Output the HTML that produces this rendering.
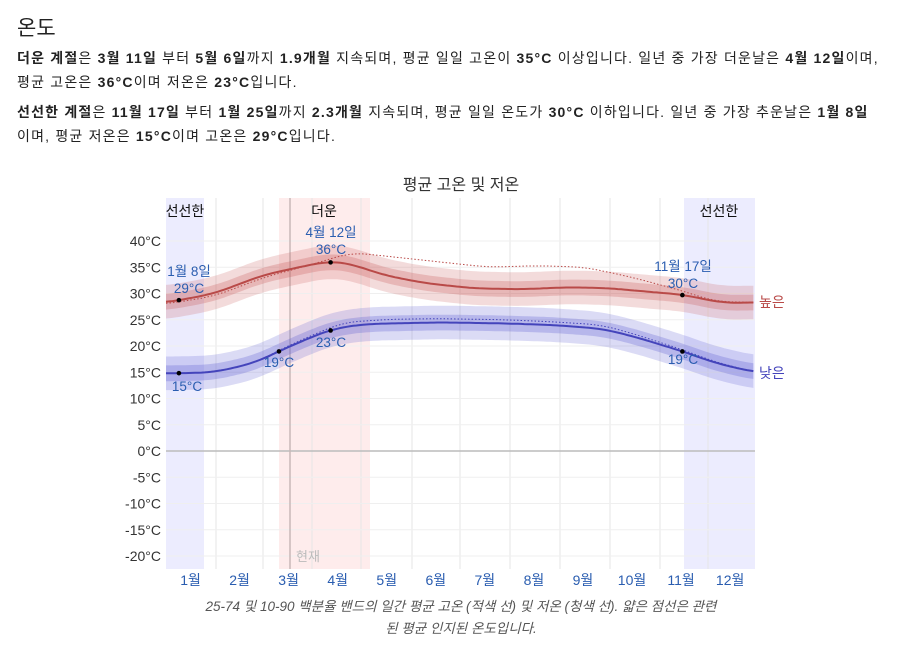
<!DOCTYPE html>
<html><head><meta charset="utf-8"><style>
body{margin:0;width:916px;height:649px;background:#fff;font-family:"Liberation Sans","Noto Sans CJK KR",sans-serif;color:#222;overflow:hidden}
h2{position:absolute;left:17px;top:12px;margin:0;font-size:21px;font-weight:normal}
p{position:absolute;left:17px;margin:0;font-size:14px;line-height:24px;width:900px;white-space:nowrap;letter-spacing:1.2px}
b{font-weight:bold}
svg{position:absolute;left:0;top:0}
svg text{font-family:"Liberation Sans","Noto Sans CJK KR",sans-serif}
</style></head><body>
<h2>온도</h2>
<p style="top:46px"><b>더운 계절</b>은 <b>3월 11일</b> 부터 <b>5월 6일</b>까지 <b>1.9개월</b> 지속되며, 평균 일일 고온이 <b>35°C</b> 이상입니다. 일년 중 가장 더운날은 <b>4월 12일</b>이며,<br>평균 고온은 <b>36°C</b>이며 저온은 <b>23°C</b>입니다.</p>
<p style="top:100px"><b>선선한 계절</b>은 <b>11월 17일</b> 부터 <b>1월 25일</b>까지 <b>2.3개월</b> 지속되며, 평균 일일 온도가 <b>30°C</b> 이하입니다. 일년 중 가장 추운날은 <b>1월 8일</b><br>이며, 평균 저온은 <b>15°C</b>이며 고온은 <b>29°C</b>입니다.</p>
<svg id="s" width="916" height="649" xmlns="http://www.w3.org/2000/svg">
<rect x="166" y="198" width="38" height="371" fill="#ececfe"/>
<rect x="684" y="198" width="71" height="371" fill="#ececfe"/>
<rect x="279" y="198" width="91" height="371" fill="#feecec"/>
<g id="grid" stroke="#e6e6e6" stroke-width="1"></g>
<line x1="166" x2="755" y1="451" y2="451" stroke="#bbb" stroke-width="1.5"/>
<line x1="290" x2="290" y1="198" y2="569" stroke="#c8b8b8" stroke-width="1.5"/>
<g id="series"></g>
<text x="461" y="190" font-size="16" text-anchor="middle" fill="#333">평균 고온 및 저온</text>
<g font-size="14" fill="#111" text-anchor="middle">
<text x="185" y="216">선선한</text><text x="324" y="216">더운</text><text x="719" y="216">선선한</text>
</g>
<g id="yl" font-size="14" fill="#333" text-anchor="end"></g>
<g id="xl" font-size="14" fill="#2a5db0" text-anchor="middle"></g>
<g font-size="13.5" fill="#2a5db0" text-anchor="middle">
<text x="189" y="276">1월 8일</text><text x="189" y="293">29°C</text>
<text x="331" y="237">4월 12일</text><text x="331" y="254">36°C</text>
<text x="683" y="271">11월 17일</text><text x="683" y="288">30°C</text>
<text x="187" y="391">15°C</text><text x="279" y="367">19°C</text>
<text x="331" y="347">23°C</text><text x="683" y="364">19°C</text>
</g>
<text x="759" y="307" font-size="14" fill="#b94a48">높은</text>
<text x="759" y="378" font-size="14" fill="#4444bb">낮은</text>
<text x="308" y="561" font-size="13" fill="#bbb" text-anchor="middle">현재</text>
<g font-size="13.5" fill="#555" font-style="italic" text-anchor="middle">
<text x="461" y="611">25-74 및 10-90 백분율 밴드의 일간 평균 고온 (적색 선) 및 저온 (청색 선). 얇은 점선은 관련</text>
<text x="461" y="633">된 평균 인지된 온도입니다.</text>
</g>
</svg>
<script>
const NS="http://www.w3.org/2000/svg";
const X=d=>166+d*589/365, Y=t=>451-5.25*t;
function el(p,n,a){const e=document.createElementNS(NS,n);for(const k in a)e.setAttribute(k,a[k]);p.appendChild(e);return e;}
const g=document.getElementById('grid');
[216,263,312,361,412,460,510,560,610,660,708].forEach(x=>el(g,'line',{x1:x,x2:x,y1:198,y2:569}));
for(let t=-20;t<=40;t+=5){if(t)el(g,'line',{x1:166,x2:755,y1:Y(t),y2:Y(t),stroke:'#efefef'});}
const yl=document.getElementById('yl');
for(let t=-20;t<=40;t+=5){const e=el(yl,'text',{x:161,y:Y(t)+5});e.textContent=t+"°C";}
const xl=document.getElementById('xl');
for(let m=0;m<12;m++){const e=el(xl,'text',{x:X(m*30.4+15.2),y:585});e.textContent=(m+1)+"월";}
function lin(pts,d){for(let i=0;i<pts.length-1;i++){const[a,b]=[pts[i],pts[i+1]];if(d>=a[0]&&d<=b[0]){const u=(d-a[0])/(b[0]-a[0]);return a[1]+(b[1]-a[1])*u;}}return pts[pts.length-1][1];}
function smooth(pts){const raw=[];for(let d=0;d<=365;d++)raw.push(lin(pts,d));const out=[];const W=10;for(let d=0;d<=365;d++){let s=0,n=0;for(let k=-W;k<=W;k++){const j=Math.min(365,Math.max(0,d+k));s+=raw[j];n++;}out.push(s/n);}return out;}
function line(v,off){let s=[];for(let d=0;d<=365;d+=2)s.push(X(d).toFixed(1)+","+Y(v[d]+off).toFixed(1));return s;}
function band(v,lo,hi){const a=line(v,hi),b=line(v,lo).reverse();return "M"+a.join("L")+"L"+b.join("L")+"Z";}
const H=smooth([[0,28.3],[8,28.7],[30,30],[60,33.5],[90,35.5],[102,36.2],[115,35.6],[135,33.5],[160,32],[190,31],[220,30.8],[250,31.2],[275,31],[300,30.3],[320,29.8],[345,28.2],[365,28.3]]);
const HF=smooth([[0,28],[30,29.5],[60,33],[90,35.5],[115,37.8],[140,37],[170,36],[200,35],[230,35.3],[260,35],[290,33],[320,30.5],[340,28.5],[365,28.3]]);
const L=smooth([[0,14.8],[8,14.8],[30,15],[55,16.8],[70,19],[90,21.7],[105,23.4],[125,24.2],[170,24.5],[210,24.3],[240,24],[270,23.3],[290,21.8],[320,19],[340,16.8],[365,15]]);
const LF=smooth([[0,14.8],[30,15],[55,16.8],[70,19.2],[90,22],[110,24.5],[140,25.1],[170,25.2],[210,25],[240,24.6],[270,24],[290,22.3],[320,19.3],[340,17],[365,15]]);
const s=document.getElementById('series');
el(s,'path',{d:band(H,-3.2,3.2),fill:'rgba(200,90,90,0.22)'});
el(s,'path',{d:band(H,-1.5,1.5),fill:'rgba(200,90,90,0.28)'});
el(s,'path',{d:band(L,-3.2,3.2),fill:'rgba(90,90,210,0.22)'});
el(s,'path',{d:band(L,-1.5,1.5),fill:'rgba(90,90,210,0.28)'});
el(s,'polyline',{points:line(HF,0).join(" "),fill:'none',stroke:'#b94a48','stroke-width':1,'stroke-dasharray':'1.5,2'});
el(s,'polyline',{points:line(LF,0).join(" "),fill:'none',stroke:'#4444bb','stroke-width':1,'stroke-dasharray':'1.5,2'});
el(s,'polyline',{points:line(H,0).join(" "),fill:'none',stroke:'#b94a48','stroke-width':2});
el(s,'polyline',{points:line(L,0).join(" "),fill:'none',stroke:'#4444bb','stroke-width':2});
[[8,H],[102,H],[320,H],[8,L],[70,L],[102,L],[320,L]].forEach(p=>el(s,'circle',{cx:X(p[0]),cy:Y(p[1][p[0]]),r:2.3,fill:'#000'}));
</script>
</body></html>
